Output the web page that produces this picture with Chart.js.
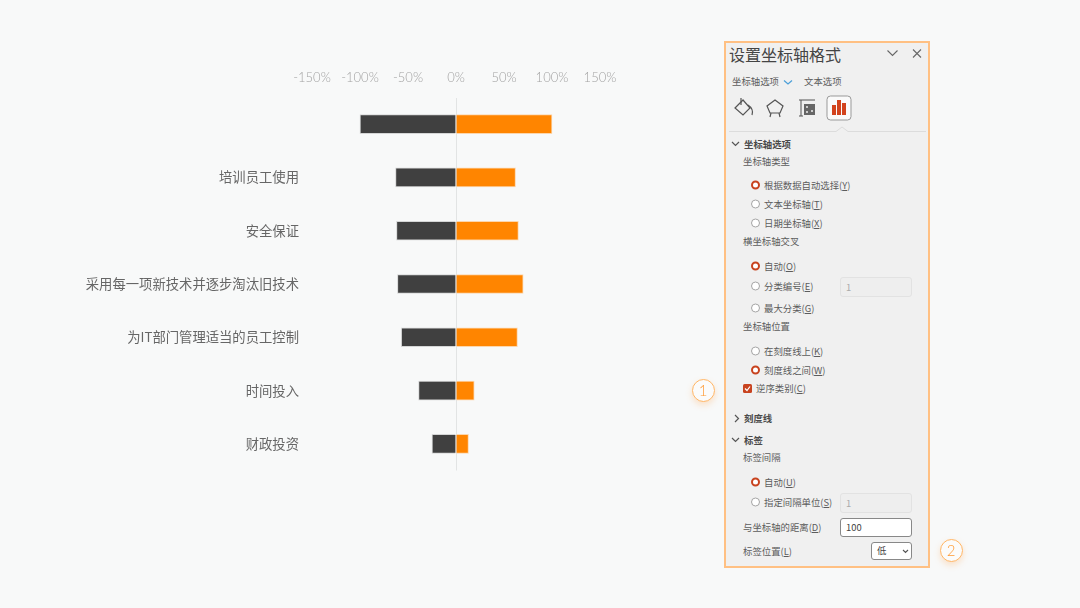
<!DOCTYPE html>
<html lang="zh-CN">
  <head>
    <meta charset="UTF-8" />
    <title>设置坐标轴格式</title>
    <script src="https://cdn.jsdelivr.net/npm/chart.js"></script>
    <style>
      * {
        box-sizing: border-box;
      }

      body {
        margin: 0;
        width: 1080px;
        height: 608px;
        overflow: hidden;
        background: #f8f9f9;
        font-family: "Noto Sans CJK SC", sans-serif;
        position: relative;
      }

      #chart {
        position: absolute;
        left: 0;
        top: 0;
      }

      .panel {
        position: absolute;
        left: 724px;
        top: 41px;
        width: 206px;
        height: 527px;
        background: #f0f0f0;
        border: 2px solid #ffc083;
      }

      .t {
        position: absolute;
        font-size: 9.4px;
        line-height: 14px;
        height: 14px;
        color: #5c5c5c;
        white-space: nowrap;
        transform: translateY(-50%);
      }

      .b {
        font-weight: 700;
        color: #4a4a4a;
      }

      .radio {
        position: absolute;
        left: 750.5px;
        width: 9px;
        height: 9px;
        border-radius: 50%;
        background: #fff;
        border: 1px solid #a5a5a5;
        transform: translateY(-50%);
      }

      .radio.on {
        border: 2.5px solid #c8431f;
      }

      .check {
        position: absolute;
        left: 743px;
        top: 384px;
        width: 9px;
        height: 9px;
        border-radius: 1.5px;
        background: #c8431f;
      }

      .box {
        position: absolute;
        left: 840px;
        width: 72px;
        border: 1px solid #e2e2e2;
        border-radius: 3px;
        background: #eeeeee;
        color: #aaa;
        font-size: 9.4px;
        padding-left: 5px;
      }

      .badge {
        position: absolute;
        width: 23px;
        height: 23px;
        border-radius: 50%;
        border: 1.2px solid #ffb565;
        background: #fbfbfb;
        color: #ff9a33;
        font-family: Lato, sans-serif;
        font-weight: 300;
        font-size: 15px;
        line-height: 20px;
        text-align: center;
        box-shadow: 0 3px 6px rgba(255, 170, 90, 0.3);
      }

      svg {
        position: absolute;
      }
    </style>
  </head>

  <body>
    <canvas id="chart" width="1080" height="608"></canvas>

    <div class="panel"></div>
    <div class="t" style="left: 729px; top: 54px; font-size: 16px; line-height: 20px; height: 20px; color: #444">设置坐标轴格式</div>
    <svg style="left: 886px; top: 48px" width="40" height="12" fill="none" stroke="#666" stroke-width="1.1">
      <path d="M1.5 2.5 L6.5 7.5 L11.5 2.5" />
      <path d="M27 1.5 L35 9.5 M35 1.5 L27 9.5" />
    </svg>
    <div class="t" style="left: 732px; top: 81px">坐标轴选项</div>
    <svg style="left: 783px; top: 79px" width="10" height="7" fill="none" stroke="#4a9fd8" stroke-width="1.2">
      <path d="M1 1.5 L5 5 L9 1.5" />
    </svg>
    <div class="t" style="left: 804px; top: 81px">文本选项</div>

    <svg style="left: 733px; top: 97px" width="22" height="22" fill="none" stroke="#555" stroke-width="1.2">
      <path d="M2 11 L10 3 L17 11 L10 18 Z" />
      <path d="M8 1 L8 8" />
      <path d="M15 8 Q21 12 19 18" />
    </svg>
    <svg style="left: 765px; top: 98px" width="20" height="20" fill="none" stroke="#555" stroke-width="1.2">
      <path d="M10 2 L18 8 L15 15 L5 15 L2 8 Z" />
      <path d="M6 15 L5 19 M14 15 L15 19" />
    </svg>
    <svg style="left: 798px; top: 99px" width="18" height="18" fill="none" stroke="#555" stroke-width="1">
      <path d="M1 1 L5 1 M3 1 L3 17 M1 17 L5 17 M5 1 L17 1" />
      <rect x="6" y="5" width="11" height="11" fill="#666" stroke="none" />
      <circle cx="9" cy="8" r="1" fill="#eee" stroke="none" />
      <circle cx="14" cy="12" r="1" fill="#eee" stroke="none" />
      <circle cx="9" cy="13" r="1" fill="#eee" stroke="none" />
    </svg>
    <svg style="left: 826px; top: 95px" width="26" height="27">
      <rect x="1" y="1" width="24" height="24" rx="3.5" fill="#fafafa" stroke="#999" />
      <rect x="6" y="10" width="4" height="10" fill="#d2421c" />
      <rect x="11" y="5" width="4" height="15" fill="#d2421c" />
      <rect x="16" y="8" width="4" height="12" fill="#d2421c" />
    </svg>
    <svg style="left: 729px; top: 126px" width="197" height="8" fill="none" stroke="#dcdcdc">
      <path d="M0 5.5 L107 5.5 L113 1 L119 5.5 L197 5.5" />
    </svg>

    <svg style="left: 731px; top: 140px" width="9" height="8" fill="none" stroke="#555" stroke-width="1.2"><path d="M1 2 L4.5 5.5 L8 2" /></svg>
    <div class="t b" style="left: 744px; top: 143.5px">坐标轴选项</div>
    <div class="t" style="left: 743px; top: 160.5px">坐标轴类型</div>
    <div class="radio on" style="top: 185px"></div>
    <div class="t" style="left: 764px; top: 185px">根据数据自动选择(<u>Y</u>)</div>
    <div class="radio" style="top: 204px"></div>
    <div class="t" style="left: 764px; top: 204px">文本坐标轴(<u>T</u>)</div>
    <div class="radio" style="top: 223px"></div>
    <div class="t" style="left: 764px; top: 223px">日期坐标轴(<u>X</u>)</div>

    <div class="t" style="left: 743px; top: 241px">横坐标轴交叉</div>
    <div class="radio on" style="top: 266px"></div>
    <div class="t" style="left: 764px; top: 266px">自动(<u>O</u>)</div>
    <div class="radio" style="top: 286px"></div>
    <div class="t" style="left: 764px; top: 286px">分类编号(<u>E</u>)</div>
    <div class="box" style="top: 277px; height: 20px; line-height: 18px">1</div>
    <div class="radio" style="top: 308px"></div>
    <div class="t" style="left: 764px; top: 307.5px">最大分类(<u>G</u>)</div>

    <div class="t" style="left: 743px; top: 326px">坐标轴位置</div>
    <div class="radio" style="top: 351px"></div>
    <div class="t" style="left: 764px; top: 350.5px">在刻度线上(<u>K</u>)</div>
    <div class="radio on" style="top: 370px"></div>
    <div class="t" style="left: 764px; top: 369.5px">刻度线之间(<u>W</u>)</div>
    <div class="check"></div>
    <svg style="left: 743px; top: 384px" width="9" height="9" fill="none" stroke="#fff" stroke-width="1.2"><path d="M2 4.5 L4 6.5 L7 2.5" /></svg>
    <div class="t" style="left: 756px; top: 388px">逆序类别(<u>C</u>)</div>

    <svg style="left: 733px; top: 414px" width="8" height="9" fill="none" stroke="#555" stroke-width="1.2"><path d="M2 1 L5.5 4.5 L2 8" /></svg>
    <div class="t b" style="left: 744px; top: 417.5px">刻度线</div>
    <svg style="left: 731px; top: 436px" width="9" height="8" fill="none" stroke="#555" stroke-width="1.2"><path d="M1 2 L4.5 5.5 L8 2" /></svg>
    <div class="t b" style="left: 744px; top: 440px">标签</div>
    <div class="t" style="left: 743px; top: 457px">标签间隔</div>
    <div class="radio on" style="top: 482px"></div>
    <div class="t" style="left: 764px; top: 482px">自动(<u>U</u>)</div>
    <div class="radio" style="top: 502px"></div>
    <div class="t" style="left: 764px; top: 502px">指定间隔单位(<u>S</u>)</div>
    <div class="box" style="top: 493px; height: 20px; line-height: 18px">1</div>
    <div class="t" style="left: 743px; top: 526.5px">与坐标轴的距离(<u>D</u>)</div>
    <div class="box" style="top: 518px; height: 19px; line-height: 16px; background: #fff; border-color: #888; color: #444">100</div>
    <div class="t" style="left: 743px; top: 550.5px">标签位置(<u>L</u>)</div>
    <div class="box" style="left: 871px; width: 41px; top: 542px; height: 18px; line-height: 15px; background: #fff; border-color: #888; color: #444">低</div>
    <svg style="left: 902px; top: 549px" width="7" height="5" fill="none" stroke="#555" stroke-width="1.1"><path d="M1 1 L3.5 3.5 L6 1" /></svg>

    <div class="badge" style="left: 691.5px; top: 378.5px">1</div>
    <div class="badge" style="left: 939.5px; top: 538.5px">2</div>

    <script>
      const categories = [
        "",
        "培训员工使用",
        "安全保证",
        "采用每一项新技术并逐步淘汰旧技术",
        "为IT部门管理适当的员工控制",
        "时间投入",
        "财政投资",
      ];
      const leftValues = [-100, -63, -62, -61, -57, -39, -25];
      const rightValues = [100, 62, 65, 70, 64, 19, 13];
      const tickStep = 50;
      const axisMin = -150;
      const axisMax = 150;

      const ctx = document.getElementById("chart").getContext("2d");
      new Chart(ctx, {
        type: "bar",
        data: {
          labels: categories,
          datasets: [
            {
              label: "左",
              data: leftValues,
              backgroundColor: "#404040",
              borderColor: "rgba(190, 190, 190, 0.6)",
              borderWidth: 1,
              barThickness: 19,
            },
            {
              label: "右",
              data: rightValues,
              backgroundColor: "#ff8500",
              borderColor: "rgba(255, 190, 120, 0.6)",
              borderWidth: 1,
              barThickness: 19,
            },
          ],
        },
        options: {
          indexAxis: "y",
          responsive: false,
          animation: false,
          layout: { padding: { top: 59.5, right: 480, bottom: 137.5, left: 0 } },
          plugins: { legend: { display: false }, tooltip: { enabled: false } },
          scales: {
            x: {
              position: "top",
              stacked: true,
              min: axisMin,
              max: axisMax,
              afterFit: (scale) => {
                scale.height = 38;
              },
              ticks: {
                stepSize: tickStep,
                autoSkip: false,
                maxRotation: 0,
                padding: 11.5,
                color: "#a3a3a3",
                font: { family: "Lato", size: 13, weight: "300" },
                callback: (v) => v + "%",
              },
              grid: {
                drawTicks: false,
                color: (c) => (c.tick && c.tick.value === 0 ? "#e2e4e4" : "transparent"),
              },
              border: { display: false },
            },
            y: {
              stacked: true,
              afterFit: (scale) => {
                scale.width = 312;
              },
              ticks: {
                padding: 13,
                color: "#666666",
                autoSkip: false,
                font: { family: "'Noto Sans CJK SC'", size: 13.33 },
              },
              grid: { display: false, drawTicks: false },
              border: { display: false },
            },
          },
        },
      });
    </script>
  </body>
</html>
